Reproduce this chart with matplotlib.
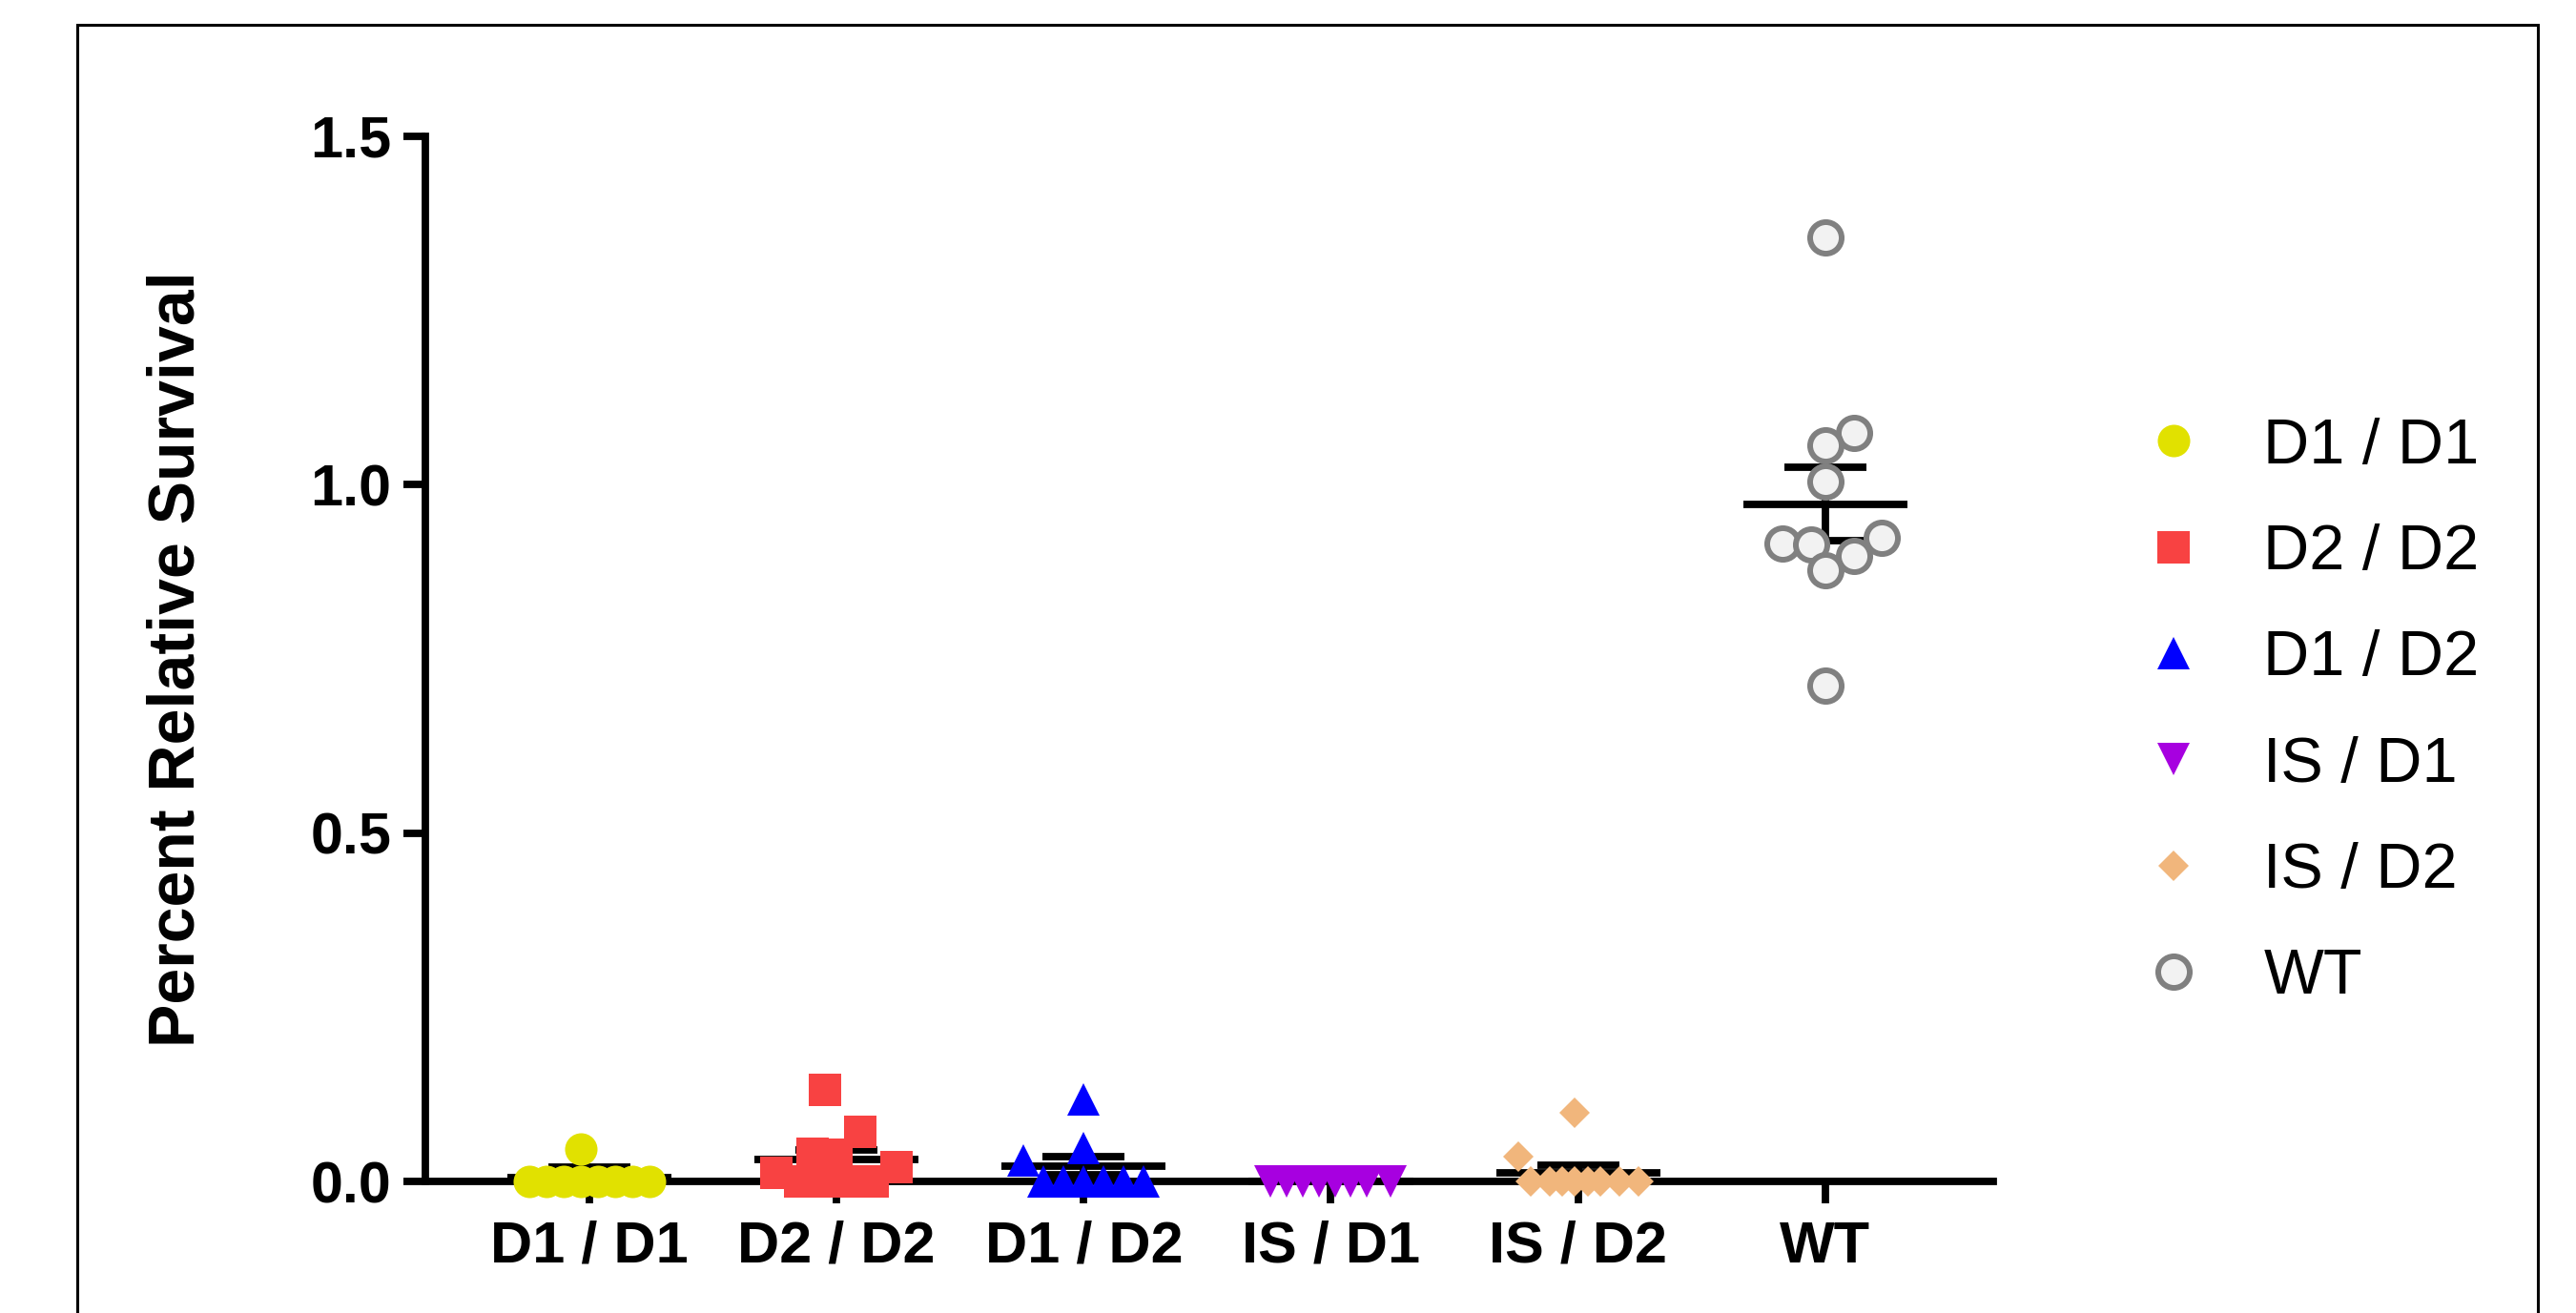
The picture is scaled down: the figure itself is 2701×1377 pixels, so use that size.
import numpy as np
import matplotlib
matplotlib.use('Agg')
import matplotlib.pyplot as plt
from matplotlib.lines import Line2D
from matplotlib.patches import Rectangle

# ---- data ----
groups = ['D1 / D1', 'D2 / D2', 'D1 / D2', 'IS / D1', 'IS / D2', 'WT']
d1d1 = [0.046, 0, 0, 0, 0, 0, 0, 0, 0]
d2d2 = [0.131, 0.071, 0.040, 0.038, 0.020, 0.012, 0, 0, 0, 0]
d1d2 = [0.118, 0.048, 0.030, 0, 0, 0, 0, 0, 0]
isd1 = [0, 0, 0, 0, 0, 0, 0, 0]
isd2 = [0.099, 0.035, 0, 0, 0, 0, 0, 0, 0, 0]
wt = [1.354, 1.074, 1.056, 1.004, 0.923, 0.915, 0.914, 0.898, 0.877, 0.712]
means = [0.005, 0.031, 0.022, 0.0, 0.013, 0.972]
sems = [0.015, 0.014, 0.013, 0.0, 0.010, 0.053]
yticks = [0.0, 0.5, 1.0, 1.5]

values = [d1d1, d2d2, d1d2, isd1, isd2, wt]

# ---- styles ----
colors = ['#E1E100', '#F84242', '#0000FF', '#A700E0', '#F1B67C', '#808080']
markers = ['o', 's', '^', 'v', 'D', 'o']
msizes = [24.5, 23.8, 24, 24, 16.8, 23.8]
FONT = 'Liberation Sans'
LW = 5.6

fig = plt.figure(figsize=(27.01, 13.77), dpi=100)
ax = fig.add_axes([0.1651, 0.1002, 0.6087, 0.7962])
ax.set_xlim(-0.664, 5.68)
ax.set_ylim(0, 1.5)

for side in ['top', 'right']:
    ax.spines[side].set_visible(False)
for side in ['left', 'bottom']:
    ax.spines[side].set_linewidth(LW)

ax.set_yticks(yticks)
ax.set_yticklabels(['%.1f' % t for t in yticks])
ax.set_xticks(range(len(groups)))
ax.set_xticklabels(groups)
ax.tick_params(axis='y', length=16.5, width=LW, pad=9)
ax.tick_params(axis='x', length=16.5, width=LW, pad=13)
for lab in ax.get_xticklabels() + ax.get_yticklabels():
    lab.set_fontfamily(FONT)
    lab.set_fontweight('bold')
    lab.set_fontsize(44)

fig.text(0.0685, 0.498, 'Percent Relative Survival', rotation=90, ha='center', va='center',
         fontsize=49, fontweight='bold', fontfamily=FONT)

# pixel scale of the axes, used to spread overlapping points sideways
p0 = ax.transData.transform((0, 0))
p1 = ax.transData.transform((1, 1))
px_x = p1[0] - p0[0]
px_y = p1[1] - p0[1]


def swarm(vals, d, max_half):
    vals = np.asarray(vals, dtype=float)
    step = d / 2
    offs = np.zeros(len(vals))
    placed = []
    for i in np.argsort(vals, kind='stable'):
        y = vals[i] * px_y
        for j in range(0, 60):
            k = (j + 1) // 2 * (1 if j % 2 else -1)
            xo = k * step
            if all((xo - a) ** 2 + (y - b) ** 2 >= d * d for a, b in placed):
                break
        placed.append((xo, y))
        offs[i] = xo
    if len(vals) > 1:
        offs -= (offs.max() + offs.min()) / 2 if offs.max() > max_half else 0
        m = np.abs(offs).max()
        if m > max_half:
            offs *= max_half / m
    return offs / px_x


for i, v in enumerate(values):
    size_px = msizes[i] * (1.414 if markers[i] == 'D' else 1) * 100 / 72
    xs = i + swarm(v, size_px * 0.9, 63)
    if groups[i] == 'WT':
        ax.plot(xs, v, ls='none', marker='o', ms=msizes[i], mfc='#F2F2F2', mec=colors[i],
                mew=4.3, zorder=5, clip_on=False)
    else:
        ax.plot(xs, v, ls='none', marker=markers[i], ms=msizes[i], color=colors[i], mew=0,
                zorder=5, clip_on=False)

# mean and SEM
x = np.arange(len(groups))
ax.hlines(means, x - 0.332, x + 0.332, colors='k', lw=LW, zorder=4, clip_on=False)
ax.errorbar(x, means, yerr=sems, fmt='none', ecolor='k', elinewidth=LW, capsize=31,
            capthick=LW, zorder=4, clip_on=False)

handles = []
for i in range(len(groups)):
    if groups[i] == 'WT':
        handles.append(Line2D([], [], ls='none', marker='o', ms=msizes[i], mfc='#F2F2F2',
                              mec=colors[i], mew=4.3))
    else:
        handles.append(Line2D([], [], ls='none', marker=markers[i], ms=msizes[i],
                              color=colors[i], mew=0))
fig.legend(handles, groups, loc='center left', bbox_to_anchor=(0.8190, 0.4575),
           frameon=False, handlelength=1.0, handletextpad=0.92, labelspacing=0.74,
           borderpad=0, numpoints=1, prop={'family': FONT, 'size': 48})

fig.add_artist(Rectangle((81 / 2701, -0.1), (2661 - 81) / 2701, 1.1 - 26 / 1377,
                         transform=fig.transFigure, fill=False, ec='k', lw=2.2))

fig.savefig('out.png', dpi=100)
